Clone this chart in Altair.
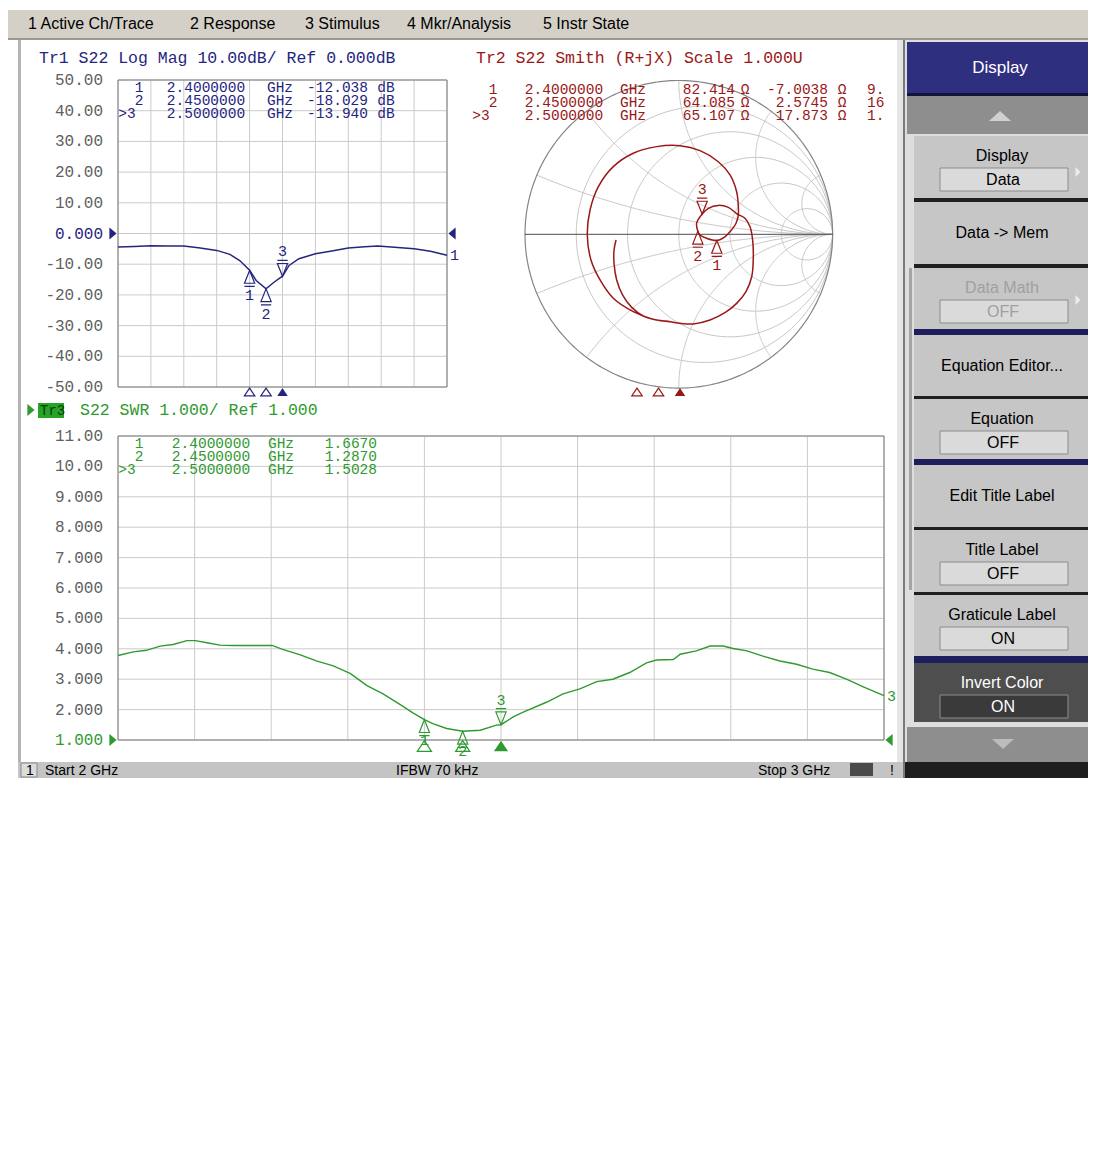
import altair as alt
import numpy as np
import pandas as pd

W, H = 1080, 1137      # drawing size (page 1096 x 1153 with 8px margins)
M = 8                  # page margin: screenshot pixel -> chart pixel

# ------------------------------------------------------------------ data
# Tr1  S22 Log Mag (dB)
lm_freq = [2.000, 2.050, 2.100, 2.150, 2.200, 2.250, 2.300, 2.340, 2.370, 2.400,
           2.420, 2.450, 2.475, 2.500, 2.520, 2.550, 2.600, 2.650, 2.700, 2.750,
           2.790, 2.850, 2.900, 2.950, 3.000]
lm_db = [-4.4, -4.2, -4.0, -4.1, -4.1, -4.7, -5.5, -6.8, -8.8, -12.0,
         -15.3, -18.0, -15.8, -13.9, -10.4, -8.2, -6.6, -5.7, -4.7, -4.3,
         -4.1, -4.6, -5.0, -5.8, -7.1]

# Tr3  S22 SWR
swr_freq = [2.000, 2.020, 2.037, 2.055, 2.072, 2.090, 2.101, 2.116, 2.133, 2.150,
            2.201, 2.215, 2.238, 2.259, 2.281, 2.303, 2.325, 2.346, 2.368, 2.385,
            2.400, 2.411, 2.429, 2.450, 2.473, 2.494, 2.500, 2.516, 2.529, 2.560,
            2.581, 2.603, 2.625, 2.646, 2.668, 2.690, 2.703, 2.725, 2.734, 2.755,
            2.773, 2.790, 2.803, 2.821, 2.842, 2.864, 2.886, 2.907, 2.929, 2.951,
            2.973, 3.000]
swr_val = [3.78, 3.90, 3.95, 4.09, 4.14, 4.27, 4.27, 4.20, 4.12, 4.11,
           4.11, 3.98, 3.80, 3.60, 3.44, 3.19, 2.79, 2.52, 2.17, 1.89,
           1.667, 1.54, 1.38, 1.287, 1.32, 1.49, 1.503, 1.76, 1.92, 2.25,
           2.52, 2.68, 2.92, 3.00, 3.22, 3.54, 3.63, 3.65, 3.82, 3.93,
           4.09, 4.09, 4.01, 3.93, 3.76, 3.60, 3.49, 3.33, 3.22, 3.00,
           2.75, 2.46]

# Tr2  S22 Smith: reflection coefficient along the sweep (2 -> 3 GHz)
smith_re = [-0.046, -0.166, -0.296, -0.426, -0.512, -0.571, -0.595, -0.577, -0.523, -0.426,
            -0.296, -0.144, 0.008, 0.138, 0.257, 0.333, 0.376, 0.387, 0.387, 0.372,
            0.333, 0.300, 0.247, 0.181, 0.138, 0.124, 0.116, 0.152, 0.192, 0.257,
            0.322, 0.380, 0.430, 0.463, 0.480, 0.484, 0.474, 0.437, 0.376, 0.300,
            0.203, 0.094, 0.008, -0.057, -0.144, -0.231, -0.306, -0.365, -0.404, -0.421,
            -0.421, -0.408]
smith_im = [-0.570, -0.553, -0.503, -0.416, -0.297, -0.167, -0.005, 0.158, 0.310, 0.440,
            0.527, 0.570, 0.576, 0.544, 0.472, 0.386, 0.277, 0.180, 0.125, 0.072,
            0.017, -0.016, -0.040, -0.026, -0.005, 0.020, 0.072, 0.132, 0.169, 0.188,
            0.175, 0.132, 0.104, 0.049, -0.037, -0.167, -0.276, -0.373, -0.449, -0.510,
            -0.557, -0.583, -0.579, -0.568, -0.557, -0.531, -0.475, -0.395, -0.297, -0.189,
            -0.102, -0.037]

# markers
mk_ids = ["1", "2", "3"]
mk_row_labels = ["1", "2", ">3"]
mk_dir = ["up", "up", "dn"]
mk_active = [False, False, True]
mk_freq = [2.40, 2.45, 2.50]
mk_freq_txt = ["2.4000000", "2.4500000", "2.5000000"]
mk_db = [-12.038, -18.029, -13.940]
mk_swr = [1.6670, 1.2870, 1.5028]
mk_r = [82.414, 64.085, 65.107]
mk_x = [-7.0038, 2.5745, 17.873]
mk_lc = ["9.", "16", "1."]

# axes
freq_grid = [2.0, 2.1, 2.2, 2.3, 2.4, 2.5, 2.6, 2.7, 2.8, 2.9, 3.0]
lm_ticks = [50, 40, 30, 20, 10, 0, -10, -20, -30, -40, -50]
lm_tick_labels = ["50.00", "40.00", "30.00", "20.00", "10.00", "0.000",
                  "-10.00", "-20.00", "-30.00", "-40.00", "-50.00"]
swr_ticks = [11, 10, 9, 8, 7, 6, 5, 4, 3, 2, 1]
swr_tick_labels = ["11.00", "10.00", "9.000", "8.000", "7.000", "6.000",
                   "5.000", "4.000", "3.000", "2.000", "1.000"]
smith_r_circles = [0.2, 0.5, 1.0, 2.0, 5.0]
smith_x_arcs = [0.2, 0.5, 1.0, 2.0, 5.0, -0.2, -0.5, -1.0, -2.0, -5.0]

# text of the instrument chrome
menu_items = ["1 Active Ch/Trace", "2 Response", "3 Stimulus", "4 Mkr/Analysis", "5 Instr State"]
title_lm = "Tr1 S22 Log Mag 10.00dB/ Ref 0.000dB"
title_sm = "Tr2 S22 Smith (R+jX) Scale 1.000U"
title_swr = "S22 SWR 1.000/ Ref 1.000"
status_items = ["Start 2 GHz", "IFBW 70 kHz", "Stop 3 GHz"]
sk_label = ["Display", "Data -> Mem", "Data Math", "Equation Editor...", "Equation",
            "Edit Title Label", "Title Label", "Graticule Label", "Invert Color"]
sk_value = ["Data", "", "OFF", "", "OFF", "", "OFF", "ON", "ON"]
sk_state = ["n", "n", "off", "n", "n", "n", "n", "n", "on"]

# ------------------------------------------------------------------ style
MONO = "Liberation Mono"
SANS = "Liberation Sans"
NAVY = "#25257f"
RED = "#9a1818"
GREEN = "#2f9a2f"
GRID = "#cbcbcb"
FRAME = "#7c7c7c"
TICK = "#606060"
BTN = "#c6c6c6"
TFS = 14.5        # marker table font size

def S(domain, rng):
    return alt.Scale(domain=list(domain), range=[r - M for r in rng], nice=False, zero=False)

XS = lambda: S([M, M + W], [M, M + W])          # screenshot pixels (chrome)
YS = lambda: S([M, M + H], [M, M + H])
LMX = lambda: S([2, 3], [118, 447])
LMY = lambda: S([-50, 50], [387, 80])
SWX = lambda: S([2, 3], [118, 884])
SWY = lambda: S([1, 11], [740, 436])
SMX = lambda: S([-1, 1], [525.0, 832.6])
SMY = lambda: S([-1, 1], [388.1, 80.5])
SMF = lambda: S([2, 3], [465, 895])

TRI_UP = "M0,0 L-0.32,0.8 L0.32,0.8 Z M-0.32,1 L0.32,1"
TRI_DN = "M0,0 L-0.32,-0.8 L0.32,-0.8 Z M-0.32,-1 L0.32,-1"
IND_UP = "M0,-0.75 L1,0.75 L-1,0.75 Z"
REF_R = "M-0.6,-1 L0.6,0 L-0.6,1 Z"
REF_L = "M0.6,-1 L-0.6,0 L0.6,1 Z"
ARR_UP = "M-1,0.45 L1,0.45 L0,-0.45 Z"
ARR_DN = "M-1,-0.45 L1,-0.45 L0,0.45 Z"
ARR_R = "M-0.5,-1 L0.5,0 L-0.5,1 Z"

layers = []

# ------------------------------------------------------------------ chrome rects
rects = [
    (M, M + W, 10, 38, "#d4d0c8", "transparent"),        # menu bar
    (M, M + W, 38, 40, "#9a9894", "transparent"),
    (18, 21, 40, 762, "#b4b4b4", "transparent"),          # display frame left
    (897, 905, 40, 762, "#e6e6e6", "transparent"),
    (903, 905, 40, 778, "#7a7a7a", "transparent"),
    (18, 903, 762, 778, "#c4c4c4", "transparent"),        # status bar
    (21, 37, 763, 777, "#dcdcdc", "#8a8a8a"),
    (850, 873, 763, 776, "#4a4a4a", "transparent"),
    (905, M + W, 40, 778, "#dedede", "transparent"),      # softkey panel
    (907, M + W, 42, 93, "#2f2f80", "transparent"),      # Display header
    (907, M + W, 93, 96, "#14143a", "transparent"),
    (907, M + W, 96, 134, "#8e8e8e", "transparent"),     # scroll up key
    (907, M + W, 727, 762, "#8e8e8e", "transparent"),    # scroll down key
    (905, M + W, 762, 778, "#1e1e1e", "transparent"),
    (909, 912, 268, 590, "#a4a4a4", "transparent"),
    (38, 64, 403, 418, "#27a327", "transparent"),         # Tr3 active badge
]
sk_top = [136, 202, 268, 335, 399, 465, 530, 595, 663]
sk_bot = [198, 264, 329, 396, 459, 527, 592, 656, 722]
sep_col = ["#202020", "#202020", "#1e1e5c", "#202020", "#1e1e5c", "#202020", "#202020", "#1e1e5c"]
sk_texts = []
for i, lab in enumerate(sk_label):
    t, b = sk_top[i], sk_bot[i]
    face = "#4e4e4e" if sk_state[i] == "on" else BTN
    rects.append((914, M + W, t, b, face, "transparent"))
    fg = "white" if sk_state[i] == "on" else ("#a0a0a0" if sk_state[i] == "off" else "black")
    if sk_value[i]:
        box = "#3a3a3a" if sk_state[i] == "on" else "#dadada"
        rects.append((940, 1068, t + 32, t + 55, box, "#8c8c8c"))
        sk_texts.append((1002, t + 20, lab, fg, 16))
        sk_texts.append((1003, t + 44, sk_value[i], fg, 16))
    else:
        sk_texts.append((1002, (t + b) / 2, lab, fg, 16))
    if i < len(sep_col):
        rects.append((914, M + W, b, sk_top[i + 1], sep_col[i], "transparent"))

rect_df = pd.DataFrame(rects, columns=["x", "x2", "y", "y2", "fill", "stroke"])
layers.append(
    alt.Chart(rect_df).mark_rect(strokeWidth=1).encode(
        x=alt.X("x:Q", scale=XS(), axis=None), x2="x2:Q",
        y=alt.Y("y:Q", scale=YS(), axis=None), y2="y2:Q",
        fill=alt.Fill("fill:N", scale=None), stroke=alt.Stroke("stroke:N", scale=None)))


def texts(rows, font, align="left", weight="normal"):
    df = pd.DataFrame(rows, columns=["x", "y", "t", "c", "s"])
    return alt.Chart(df).mark_text(font=font, align=align, baseline="middle", fontWeight=weight).encode(
        x=alt.X("x:Q", scale=XS(), axis=None), y=alt.Y("y:Q", scale=YS(), axis=None),
        text="t:N", color=alt.Color("c:N", scale=None), size=alt.Size("s:Q", scale=None))


def glyphs(rows, path, size):
    df = pd.DataFrame(rows, columns=["x", "y", "c"])
    return alt.Chart(df).mark_point(shape=path, size=size, filled=True, opacity=1, strokeWidth=0).encode(
        x=alt.X("x:Q", scale=XS(), axis=None), y=alt.Y("y:Q", scale=YS(), axis=None),
        color=alt.Color("c:N", scale=None))


# ------------------------------------------------------------------ rectangular plots
def grid_layers(xs, ys, xgrid, ygrid, x0, x1, y0, y1):
    vg = pd.DataFrame({"f": xgrid, "lo": y0, "hi": y1})
    hg = pd.DataFrame({"v": ygrid, "lo": x0, "hi": x1})
    box = pd.DataFrame({"a": [x0], "b": [x1], "c": [y0], "d": [y1]})
    return [
        alt.Chart(vg).mark_rule(color=GRID, strokeWidth=1).encode(
            x=alt.X("f:Q", scale=xs(), axis=None), y=alt.Y("lo:Q", scale=ys(), axis=None), y2="hi:Q"),
        alt.Chart(hg).mark_rule(color=GRID, strokeWidth=1).encode(
            y=alt.Y("v:Q", scale=ys(), axis=None), x=alt.X("lo:Q", scale=xs(), axis=None), x2="hi:Q"),
        alt.Chart(box).mark_rect(fill="transparent", stroke=FRAME, strokeWidth=1).encode(
            x=alt.X("a:Q", scale=xs(), axis=None), x2="b:Q",
            y=alt.Y("c:Q", scale=ys(), axis=None), y2="d:Q"),
    ]


def tick_labels(ys, ticks, labels, ref_value, ref_color, xpix):
    cols = [ref_color if v == ref_value else TICK for v in ticks]
    df = pd.DataFrame({"v": ticks, "t": labels, "c": cols})
    return alt.Chart(df).mark_text(font=MONO, fontSize=16, align="right", baseline="middle").encode(
        x=alt.value(xpix - M), y=alt.Y("v:Q", scale=ys(), axis=None), text="t:N",
        color=alt.Color("c:N", scale=None))


def marker_layers(df, xf, yf, xs, ys, color, size=1024, dy_up=25, dy_dn=25):
    out = []
    for d, path, off in (("up", TRI_UP, dy_up), ("dn", TRI_DN, -dy_dn)):
        base = alt.Chart(df).transform_filter(f"datum.dir == '{d}'")
        enc = dict(x=alt.X(f"{xf}:Q", scale=xs(), axis=None), y=alt.Y(f"{yf}:Q", scale=ys(), axis=None))
        out.append(base.mark_point(shape=path, size=size, filled=False, color=color,
                                   strokeWidth=1.2, opacity=1).encode(**enc))
        out.append(base.mark_text(font=MONO, fontSize=15, color=color, dy=off,
                                  baseline="middle").encode(text="id:N", **enc))
    return out


def indicator_layers(df, xs, ypix, color, size):
    out = []
    for active in (False, True):
        out.append(alt.Chart(df).transform_filter(f"datum.active == {str(active).lower()}")
                   .mark_point(shape=IND_UP, size=size, filled=active, color=color, opacity=1,
                               strokeWidth=1.2)
                   .encode(x=alt.X("f:Q", scale=xs(), axis=None), y=alt.value(ypix - M)))
    return out


mk_df = pd.DataFrame({"f": mk_freq, "db": mk_db, "swr": mk_swr, "id": mk_ids,
                      "dir": mk_dir, "active": mk_active})
z = (np.array(mk_r) + 1j * np.array(mk_x)) / 50.0
g = (z - 1) / (z + 1)
mk_df["gr"] = g.real
mk_df["gi"] = g.imag

# --- Tr1 Log Mag
layers += grid_layers(LMX, LMY, freq_grid, lm_ticks, 2, 3, -50, 50)
lm_df = pd.DataFrame({"f": lm_freq, "v": lm_db})
layers.append(alt.Chart(lm_df).mark_line(color=NAVY, strokeWidth=1.5).encode(
    x=alt.X("f:Q", scale=LMX(), axis=None), y=alt.Y("v:Q", scale=LMY(), axis=None)))
layers.append(alt.Chart(lm_df.tail(1)).mark_text(font=MONO, fontSize=15, color=NAVY, align="left", dx=3).encode(
    x=alt.X("f:Q", scale=LMX(), axis=None), y=alt.Y("v:Q", scale=LMY(), axis=None), text=alt.value("1")))
layers += marker_layers(mk_df, "f", "db", LMX, LMY, NAVY)
layers += indicator_layers(mk_df, LMX, 392, NAVY, 110)
layers.append(tick_labels(LMY, lm_ticks, lm_tick_labels, 0, NAVY, 103))
ref0 = pd.DataFrame({"v": [0]})
layers.append(alt.Chart(ref0).mark_point(shape=REF_R, size=144, filled=True, color=NAVY, opacity=1).encode(
    x=alt.value(113 - M), y=alt.Y("v:Q", scale=LMY(), axis=None)))
layers.append(alt.Chart(ref0).mark_point(shape=REF_L, size=144, filled=True, color=NAVY, opacity=1).encode(
    x=alt.value(452 - M), y=alt.Y("v:Q", scale=LMY(), axis=None)))

# --- Tr3 SWR
layers += grid_layers(SWX, SWY, freq_grid, swr_ticks, 2, 3, 1, 11)
sw_df = pd.DataFrame({"f": swr_freq, "v": swr_val})
layers.append(alt.Chart(sw_df).mark_line(color=GREEN, strokeWidth=1.4).encode(
    x=alt.X("f:Q", scale=SWX(), axis=None), y=alt.Y("v:Q", scale=SWY(), axis=None)))
layers.append(alt.Chart(sw_df.tail(1)).mark_text(font=MONO, fontSize=15, color=GREEN, align="left", dx=3).encode(
    x=alt.X("f:Q", scale=SWX(), axis=None), y=alt.Y("v:Q", scale=SWY(), axis=None), text=alt.value("3")))
layers += marker_layers(mk_df, "f", "swr", SWX, SWY, GREEN, dy_up=20, dy_dn=25)
layers += indicator_layers(mk_df, SWX, 746, GREEN, 200)
layers.append(tick_labels(SWY, swr_ticks, swr_tick_labels, 1, GREEN, 103))
ref1 = pd.DataFrame({"v": [1]})
layers.append(alt.Chart(ref1).mark_point(shape=REF_R, size=144, filled=True, color=GREEN, opacity=1).encode(
    x=alt.value(113 - M), y=alt.Y("v:Q", scale=SWY(), axis=None)))
layers.append(alt.Chart(ref1).mark_point(shape=REF_L, size=144, filled=True, color=GREEN, opacity=1).encode(
    x=alt.value(889 - M), y=alt.Y("v:Q", scale=SWY(), axis=None)))

# --- Tr2 Smith chart grid
grid_rows = []
phi = np.linspace(-np.pi / 2 + 1e-3, np.pi / 2 - 1e-3, 300)
for k, r in enumerate(smith_r_circles):
    zz = r + 1j * np.tan(phi)
    gg = (zz - 1) / (zz + 1)
    for j, p in enumerate(gg):
        grid_rows.append((f"r{k}", j, p.real, p.imag))
psi = np.linspace(0, np.pi / 2 - 1e-3, 200)
for k, xv in enumerate(smith_x_arcs):
    zz = np.tan(psi) + 1j * xv
    gg = (zz - 1) / (zz + 1)
    for j, p in enumerate(gg):
        grid_rows.append((f"x{k}", j, p.real, p.imag))
sg_df = pd.DataFrame(grid_rows, columns=["id", "i", "gr", "gi"])
layers.append(alt.Chart(sg_df).mark_line(color="#c6c6c6", strokeWidth=1).encode(
    x=alt.X("gr:Q", scale=SMX(), axis=None), y=alt.Y("gi:Q", scale=SMY(), axis=None),
    detail="id:N", order="i:Q"))
t = np.linspace(0, 2 * np.pi, 361)
outer = pd.DataFrame({"i": range(len(t)), "gr": np.cos(t), "gi": np.sin(t)})
layers.append(alt.Chart(outer).mark_line(color="#858585", strokeWidth=1.2).encode(
    x=alt.X("gr:Q", scale=SMX(), axis=None), y=alt.Y("gi:Q", scale=SMY(), axis=None), order="i:Q"))
axis_df = pd.DataFrame({"a": [-1.0], "b": [1.0], "v": [0.0]})
layers.append(alt.Chart(axis_df).mark_rule(color="#4a4a4a", strokeWidth=1).encode(
    x=alt.X("a:Q", scale=SMX(), axis=None), x2="b:Q", y=alt.Y("v:Q", scale=SMY(), axis=None)))
sm_df = pd.DataFrame({"i": range(len(smith_re)), "gr": smith_re, "gi": smith_im})
layers.append(alt.Chart(sm_df).mark_line(color=RED, strokeWidth=1.5, interpolate="catmull-rom").encode(
    x=alt.X("gr:Q", scale=SMX(), axis=None), y=alt.Y("gi:Q", scale=SMY(), axis=None), order="i:Q"))
layers += marker_layers(mk_df, "gr", "gi", SMX, SMY, RED)
layers += indicator_layers(mk_df, SMF, 392, RED, 110)

# ------------------------------------------------------------------ text
tl = []   # left aligned mono
tr = []   # right aligned mono
tc = []   # centred mono
tl.append((39, 58, title_lm, NAVY, 16.5))
tl.append((476, 58, title_sm, RED, 16.5))
tl.append((80, 410, title_swr, GREEN, 16.5))
tl.append((40, 410.5, "Tr3", "#0b3a0b", 14))
lm_rows, sm_rows, sw_rows = [88, 101, 114], [90, 103, 116], [444, 457, 470]
lab_x = [139, 139, 127]
for i in range(3):
    # Tr1 table
    y = lm_rows[i]
    tc.append((lab_x[i], y, mk_row_labels[i], NAVY, TFS))
    tc.append((206, y, mk_freq_txt[i], NAVY, TFS))
    tc.append((280, y, "GHz", NAVY, TFS))
    tr.append((368, y, f"{mk_db[i]:.3f}", NAVY, TFS))
    tc.append((386, y, "dB", NAVY, TFS))
    # Tr2 table
    y = sm_rows[i]
    tc.append((lab_x[i] + 354, y, mk_row_labels[i], RED, TFS))
    tc.append((564, y, mk_freq_txt[i], RED, TFS))
    tc.append((633, y, "GHz", RED, TFS))
    tr.append((735, y, f"{mk_r[i]:.5g}", RED, TFS))
    tc.append((745, y, "Ω", RED, TFS))
    tr.append((828, y, f"{mk_x[i]:.5g}", RED, TFS))
    tc.append((842, y, "Ω", RED, TFS))
    tl.append((867, y, mk_lc[i], RED, TFS))
    # Tr3 table
    y = sw_rows[i]
    tc.append((lab_x[i], y, mk_row_labels[i], GREEN, TFS))
    tc.append((211, y, mk_freq_txt[i], GREEN, TFS))
    tc.append((281, y, "GHz", GREEN, TFS))
    tr.append((377, y, f"{mk_swr[i]:.4f}", GREEN, TFS))
layers.append(texts(tl, MONO, "left"))
layers.append(texts(tr, MONO, "right"))
layers.append(texts(tc, MONO, "center"))

sl = [(x, 24, s, "black", 16) for x, s in zip([28, 190, 305, 407, 543], menu_items)]
sl += [(x, 771, s, "black", 14) for x, s in zip([45, 396, 758], status_items)]
sl += [(26, 771, "1", "black", 14), (890, 771, "!", "black", 14)]
layers.append(texts(sl, SANS, "left"))
sk_texts.append((1000, 68, "Display", "white", 17))
layers.append(texts(sk_texts, SANS, "center"))

layers.append(glyphs([(1000, 116, "#d0d0d0")], ARR_UP, 484))
layers.append(glyphs([(1003, 744, "#bcbcbc")], ARR_DN, 484))
layers.append(glyphs([(1078, 172, "#ececec"), (1078, 300, "#ececec")], ARR_R, 100))
layers.append(glyphs([(31, 410, GREEN)], REF_R, 144))

chart = alt.layer(*layers).resolve_scale(x="independent", y="independent").properties(
    width=W, height=H, padding=0, background="white",
    autosize=alt.AutoSizeParams(type="none"),
).configure_view(stroke=None)

chart.save("out.html", embed_options={"renderer": "svg", "actions": False})
